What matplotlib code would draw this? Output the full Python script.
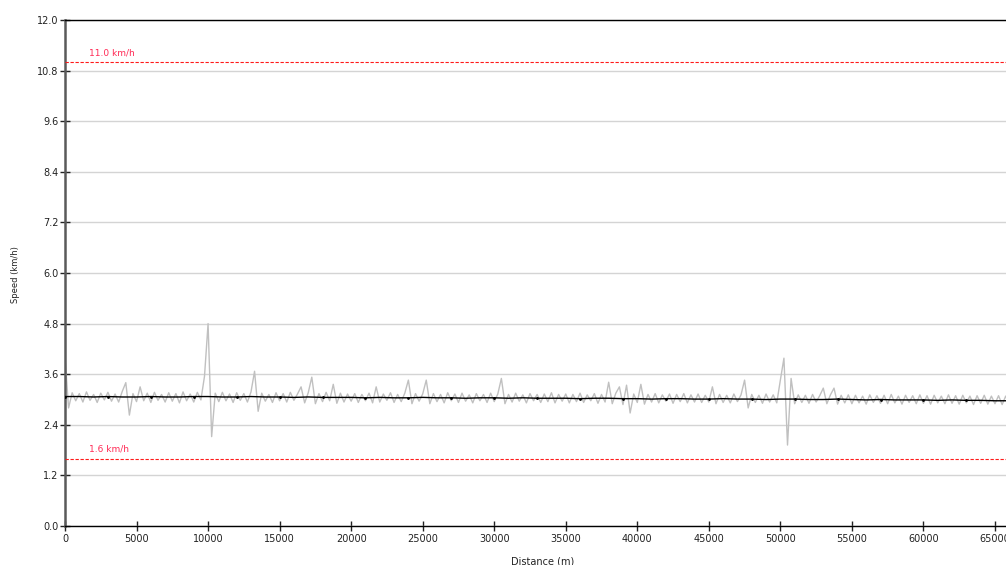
import numpy as np
import matplotlib.pyplot as plt

# raw speed samples every 250 m (km/h)
raw_step = 250
raw_speed = [
    4.00, 2.80, 3.16, 2.97, 3.14, 2.94, 3.18, 2.98, 3.12, 2.93, 3.15, 2.99, 3.17, 2.96, 3.13, 2.94, 3.19, 3.40, 2.63, 3.14,
    2.95, 3.30, 2.97, 3.15, 2.93, 3.17, 2.98, 3.12, 2.94, 3.16, 2.96, 3.14, 2.92, 3.18, 2.97, 3.13, 2.94, 3.17, 2.99, 3.55,
    4.80, 2.12, 3.15, 2.95, 3.17, 2.97, 3.13, 2.93, 3.16, 2.98, 3.14, 2.94, 3.18, 3.67, 2.72, 3.15, 2.96, 3.12, 2.93, 3.16,
    2.97, 3.14, 2.94, 3.17, 2.98, 3.13, 3.30, 2.92, 3.16, 3.53, 2.90, 3.14, 2.95, 3.17, 2.97, 3.36, 2.91, 3.15, 2.94, 3.13,
    2.96, 3.14, 2.93, 3.12, 2.97, 3.15, 2.92, 3.30, 2.94, 3.13, 2.98, 3.16, 2.93, 3.12, 2.95, 3.15, 3.46, 2.90, 3.14, 2.96,
    3.13, 3.46, 2.90, 3.14, 2.95, 3.12, 2.92, 3.16, 2.97, 3.13, 2.93, 3.15, 2.96, 3.11, 2.92, 3.14, 2.97, 3.12, 2.93, 3.15,
    2.95, 3.13, 3.50, 2.90, 3.12, 2.94, 3.15, 2.96, 3.11, 2.92, 3.14, 2.97, 3.12, 2.93, 3.13, 2.95, 3.16, 2.92, 3.12, 2.96,
    3.13, 2.92, 3.12, 2.95, 3.15, 2.93, 3.11, 2.97, 3.14, 2.91, 3.12, 2.94, 3.41, 2.90, 3.15, 3.30, 2.88, 3.34, 2.68, 3.13,
    2.93, 3.36, 2.89, 3.12, 2.94, 3.14, 2.92, 3.11, 2.96, 3.13, 2.91, 3.12, 2.95, 3.14, 2.92, 3.11, 2.94, 3.13, 2.93, 3.10,
    2.94, 3.30, 2.90, 3.12, 2.93, 3.10, 2.92, 3.13, 2.95, 3.11, 3.46, 2.80, 3.12, 2.93, 3.10, 2.91, 3.13, 2.94, 3.11, 2.92,
    3.46, 3.98, 1.92, 3.50, 2.90, 3.11, 2.93, 3.10, 2.91, 3.12, 2.94, 3.09, 3.27, 2.90, 3.11, 3.27, 2.89, 3.10, 2.92, 3.11,
    2.90, 3.10, 2.92, 3.08, 2.89, 3.11, 2.93, 3.09, 2.91, 3.10, 2.90, 3.12, 2.92, 3.08, 2.89, 3.10, 2.93, 3.09, 2.90, 3.11,
    2.91, 3.09, 2.89, 3.10, 2.92, 3.08, 2.90, 3.11, 2.91, 3.09, 2.89, 3.10, 2.92, 3.08, 2.88, 3.09, 2.91, 3.10, 2.89, 3.08,
    2.90, 3.09, 2.88, 3.08, 2.91,
]

# smoothed speed every 1000 m
smooth_step = 1000
smooth_speed = [
    3.07, 3.07, 3.06, 3.07, 3.06, 3.06, 3.07, 3.06, 3.06, 3.07,
    3.07, 3.06, 3.06, 3.07, 3.06, 3.06, 3.05, 3.06, 3.05, 3.05,
    3.05, 3.04, 3.05, 3.04, 3.04, 3.05, 3.04, 3.04, 3.03, 3.04,
    3.04, 3.03, 3.04, 3.03, 3.03, 3.03, 3.02, 3.03, 3.03, 3.02,
    3.02, 3.01, 3.02, 3.02, 3.01, 3.01, 3.02, 3.01, 3.01, 3.00,
    3.01, 3.01, 3.00, 3.00, 3.01, 3.00, 2.99, 3.00, 2.99, 2.99,
    2.99, 2.98, 2.99, 2.98, 2.98, 2.97, 2.97,
]

limits = [11.0, 1.6]
limit_labels = ["11.0 km/h", "1.6 km/h"]

raw_x = np.arange(len(raw_speed)) * raw_step
smooth_x = np.arange(len(smooth_speed)) * smooth_step

fig = plt.figure(figsize=(10.06, 5.65), dpi=100)
ax = fig.add_axes([65 / 1006, 39 / 565, 1001.5 / 1006, 506 / 565])

ax.plot(raw_x, raw_speed, color="#c0c0c0", lw=1.0, zorder=2)
ax.plot(smooth_x, smooth_speed, color="black", lw=1.0, marker=".", markersize=2,
        markevery=3, zorder=3)

for val, lab in zip(limits, limit_labels):
    ax.axhline(val, color="#ff1a1a", lw=0.8, ls=(0, (3, 1.5)), zorder=3)
    ax.text(1700, val + 0.12, lab, color="#ff2a55", fontsize=6.5, va="bottom", ha="left")

ax.set_xlim(0, 70000)
ax.set_ylim(0, 12)
ax.set_yticks(np.arange(0, 12.01, 1.2))
ax.set_yticklabels([f"{v:.1f}" for v in np.arange(0, 12.01, 1.2)])
ax.set_xticks(np.arange(0, 70001, 5000))
ax.grid(axis="y", color="#d4d4d4", lw=1.0, zorder=1)
ax.set_axisbelow(True)

ax.spines["right"].set_visible(False)
ax.spines["top"].set_color("black")
ax.spines["top"].set_linewidth(1.0)
ax.spines["bottom"].set_linewidth(1.0)
ax.spines["left"].set_color("#5a5a5a")
ax.spines["left"].set_linewidth(1.8)
ax.tick_params(axis="both", direction="inout", length=7, width=1, labelsize=7, colors="#222222")
ax.tick_params(axis="x", pad=2)
ax.tick_params(axis="y", pad=1)

fig.text(15 / 1006, 1 - 275 / 565, "Speed (km/h)", rotation=90, fontsize=6, ha="center", va="center", color="#222222")
fig.text(543 / 1006, 1 - 562 / 565, "Distance (m)", fontsize=7, ha="center", va="center", color="#222222")

fig.savefig("out.png", dpi=100)
